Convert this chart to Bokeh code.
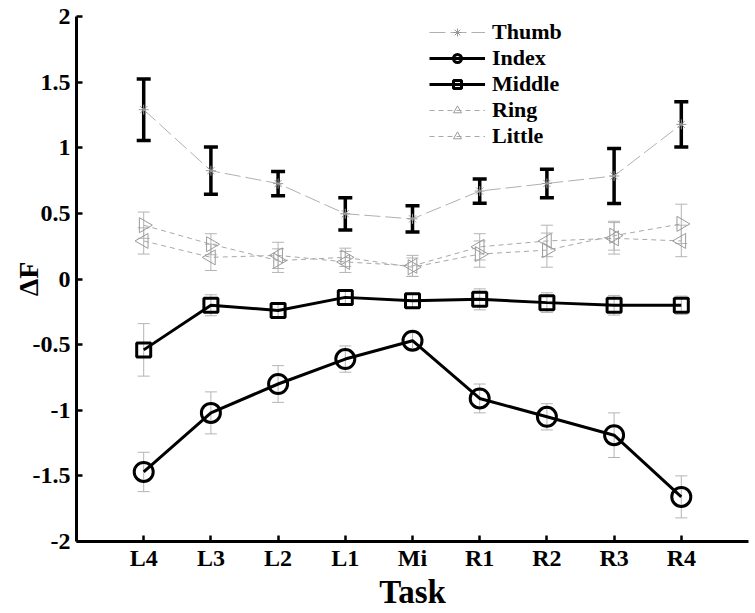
import numpy as np
from bokeh.plotting import figure
from bokeh.models import (ColumnDataSource, Whisker, TeeHead, FixedTicker,
                          NumeralTickFormatter, Legend, LegendItem)
from bokeh.embed import file_html
from bokeh.resources import INLINE

# ---- data ----
tasks = ["L4", "L3", "L2", "L1", "Mi", "R1", "R2", "R3", "R4"]
thumb = [1.29, 0.825, 0.727, 0.497, 0.458, 0.67, 0.728, 0.785, 1.178]
thumb_err = [0.234, 0.18, 0.093, 0.123, 0.10, 0.092, 0.108, 0.21, 0.172]
index = [-1.47, -1.02, -0.80, -0.61, -0.47, -0.91, -1.05, -1.19, -1.66]
index_err = [0.15, 0.16, 0.14, 0.10, 0.06, 0.11, 0.10, 0.17, 0.16]
middle = [-0.54, -0.20, -0.24, -0.14, -0.165, -0.155, -0.18, -0.20, -0.20]
middle_err = [0.20, 0.08, 0.06, 0.05, 0.05, 0.08, 0.075, 0.075, 0.07]
ring = [0.29, 0.165, 0.18, 0.13, 0.10, 0.245, 0.29, 0.31, 0.29]
ring_err = [0.10, 0.10, 0.10, 0.08, 0.08, 0.10, 0.12, 0.12, 0.12]
little = [0.41, 0.265, 0.14, 0.165, 0.09, 0.19, 0.22, 0.33, 0.42]
little_err = [0.10, 0.08, 0.09, 0.07, 0.07, 0.10, 0.13, 0.11, 0.15]
y_ticks = [-2, -1.5, -1, -0.5, 0, 0.5, 1, 1.5, 2]

xs = list(range(1, len(tasks) + 1))

FONT = "Liberation Serif"

p = figure(width=755, height=613, x_range=(0, 10), y_range=(-2, 2),
           output_backend="svg", toolbar_location=None,
           min_border_left=76, min_border_right=7, min_border_top=16,
           min_border_bottom=72)
p.xgrid.visible = False
p.ygrid.visible = False
p.outline_line_color = None
p.background_fill_color = "white"
p.border_fill_color = "white"

for ax in (p.xaxis[0], p.yaxis[0]):
    ax.axis_line_width = 3
    ax.axis_line_color = "black"
    ax.major_tick_in = 6
    ax.major_tick_out = 0
    ax.major_tick_line_width = 2.5
    ax.major_tick_line_color = "black"
    ax.minor_tick_line_color = None
    ax.major_label_text_font = FONT
    ax.major_label_text_font_style = "bold"
    ax.major_label_text_font_size = "24px"
    ax.major_label_text_color = "black"
    ax.axis_label_text_font = FONT
    ax.axis_label_text_font_style = "bold"
    ax.axis_label_text_color = "black"

p.xaxis.ticker = FixedTicker(ticks=xs)
p.xaxis.major_label_overrides = {x: t for x, t in zip(xs, tasks)}
p.xaxis.major_label_standoff = 3
p.xaxis.axis_label = "Task"
p.xaxis.axis_label_text_font_size = "33px"
p.xaxis.axis_label_standoff = 0

p.yaxis.ticker = FixedTicker(ticks=y_ticks)
p.yaxis.formatter = NumeralTickFormatter(format="0.[0]")
p.yaxis.major_label_standoff = 6
p.yaxis.axis_label = "ΔF"
p.yaxis.axis_label_text_font_size = "28px"
p.yaxis.axis_label_standoff = -14


def src(y, e):
    return ColumnDataSource(dict(x=xs, y=y,
                                 upper=[a + b for a, b in zip(y, e)],
                                 lower=[a - b for a, b in zip(y, e)]))


def whisk(s, color, width, head):
    w = Whisker(base="x", upper="upper", lower="lower", source=s,
                line_color=color, line_width=width,
                upper_head=TeeHead(size=head, line_color=color, line_width=width),
                lower_head=TeeHead(size=head, line_color=color, line_width=width))
    p.add_layout(w)


GREY_ERR = "#b4b4b4"
s_thumb = src(thumb, thumb_err)
s_index = src(index, index_err)
s_middle = src(middle, middle_err)
s_ring = src(ring, ring_err)
s_little = src(little, little_err)

whisk(s_ring, GREY_ERR, 1, 12)
whisk(s_little, GREY_ERR, 1, 12)
whisk(s_index, GREY_ERR, 1, 12)
whisk(s_middle, GREY_ERR, 1, 12)

# Ring / Little
r_ring_l = p.line("x", "y", source=s_ring, line_color="#a8a8a8", line_width=1,
                  line_dash="5 4")
r_ring_m = p.scatter("x", "y", source=s_ring, marker="triangle", size=15,
                     angle=np.pi / 2, fill_color=None, line_color="#9a9a9a",
                     line_width=1)
r_lit_l = p.line("x", "y", source=s_little, line_color="#a8a8a8", line_width=1,
                 line_dash="5 4")
r_lit_m = p.scatter("x", "y", source=s_little, marker="triangle", size=15,
                    angle=-np.pi / 2, fill_color=None, line_color="#9a9a9a",
                    line_width=1)

# Thumb
r_th_l = p.line("x", "y", source=s_thumb, line_color="#b0b0b0", line_width=1,
                line_dash="16 5")
whisk(s_thumb, "black", 3.5, 14)
r_th_m = p.scatter("x", "y", source=s_thumb, marker="asterisk", size=10,
                   line_color="#999999", line_width=1)

# Middle
r_mid_l = p.line("x", "y", source=s_middle, line_color="black", line_width=3)
r_mid_m = p.scatter("x", "y", source=s_middle, marker="square", size=14,
                    fill_color=None, line_color="black", line_width=3)

# Index
r_idx_l = p.line("x", "y", source=s_index, line_color="black", line_width=3)
r_idx_m = p.scatter("x", "y", source=s_index, marker="circle", size=19,
                    fill_color=None, line_color="black", line_width=3)

legend = Legend(items=[
    LegendItem(label="Thumb", renderers=[r_th_l, r_th_m]),
    LegendItem(label="Index", renderers=[r_idx_l, r_idx_m]),
    LegendItem(label="Middle", renderers=[r_mid_l, r_mid_m]),
    LegendItem(label="Ring", renderers=[r_ring_l, r_ring_m]),
    LegendItem(label="Little", renderers=[r_lit_l, r_lit_m]),
], location=(353, 392))
legend.background_fill_alpha = 0
legend.border_line_color = None
legend.padding = 0
legend.margin = 0
legend.spacing = 0
legend.glyph_width = 56
legend.glyph_height = 20
legend.label_standoff = 7
legend.label_height = 20
legend.label_text_font = FONT
legend.label_text_font_style = "bold"
legend.label_text_font_size = "22px"
legend.label_text_color = "black"
p.add_layout(legend, "center")

open("out.html", "w").write(file_html(p, INLINE))
